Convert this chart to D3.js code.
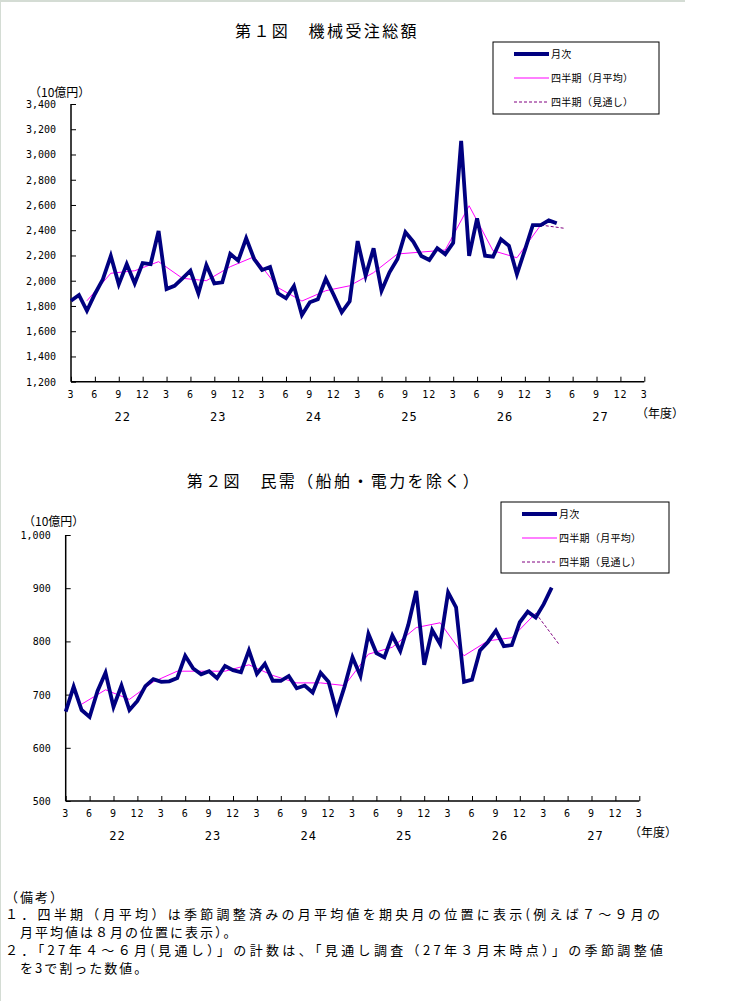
<!DOCTYPE html>
<html><head><meta charset="utf-8">
<script src="https://cdn.jsdelivr.net/npm/d3@7"></script>
<style>
html,body{margin:0;padding:0;background:#fff;}
svg{display:block;}
</style></head>
<body>
<svg id="c" width="753" height="1001"></svg>
<script>
// ---- data ----
const tickLabels = ["3","6","9","12"];
const fiscalYears = ["22","23","24","25","26","27"];

const monthly1 = [1841,1887,1762,1895,2011,2196,1971,2132,1979,2140,2132,2394,1934,1960,2019,2079,1900,2124,1979,1987,2212,2159,2336,2172,2085,2108,1900,1861,1958,1728,1829,1853,2016,1887,1750,1837,2314,2040,2257,1921,2067,2172,2384,2309,2196,2164,2257,2210,2300,3107,2196,2494,2198,2190,2328,2277,2051,2243,2441,2441,2478,2455];
const quarterly1 = [1841,2059,2079,2151,2019,2000,2111,2190,1945,1839,1921,1960,2064,2212,2227,2243,2594,2238,2182,2441];
const forecast1 = 2415;

const monthly2 = [668,715,671,658,707,741,677,717,671,688,716,729,724,725,731,773,749,738,744,731,754,746,742,783,739,758,726,726,735,712,717,704,741,724,668,715,770,735,814,778,770,811,782,831,895,756,821,795,892,864,724,728,783,799,820,791,793,836,856,845,870,901];
const quarterly2 = [682,709,691,724,744,744,744,756,736,722,722,717,776,789,826,835,773,801,807,853];
const forecast2 = 793;

const legendLabels = ["月次","四半期（月平均）","四半期（見通し）"];

const svg = d3.select("#c");
const JP = "'Noto Sans CJK JP', sans-serif";
const MONO = "'DejaVu Sans Mono', monospace";

// frame lines
svg.append("line").attr("x1",0).attr("x2",685).attr("y1",1).attr("y2",1).attr("stroke","#d4dcd4").attr("stroke-width",2);
svg.append("line").attr("x1",0.5).attr("x2",0.5).attr("y1",0).attr("y2",1001).attr("stroke","#d4dcd4").attr("stroke-width",1);

function drawChart(cfg){
  const g = svg.append("g");
  const x = d3.scaleLinear().domain([0,72]).range([cfg.x0,cfg.x1]);
  const y = d3.scaleLinear().domain(cfg.yDomain).range([cfg.yBottom,cfg.yTop]);

  g.append("text").attr("x",cfg.titleX).attr("y",cfg.titleY).attr("text-anchor","middle")
    .attr("font-family",JP).attr("font-size",16).attr("letter-spacing","2.4px").attr("fill","#000").text(cfg.title);

  g.append("text").attr("x",cfg.unitX).attr("y",cfg.unitY).attr("font-family",JP).attr("font-size",12)
    .attr("fill","#000").text("（10億円）");

  const yt = d3.range(cfg.yDomain[0],cfg.yDomain[1]+1,cfg.yStep);
  const yAxis = d3.axisRight(y).tickValues(yt).tickSize(5).tickFormat("");
  const ya = g.append("g").attr("transform",`translate(${cfg.x0},0)`).call(yAxis);
  ya.select(".domain").remove();
  ya.selectAll("line").attr("stroke","#000").attr("stroke-width",1);
  g.selectAll(".ylab").data(yt).enter().append("text")
    .attr("x",cfg.x0-15).attr("y",d=>y(d)+4).attr("text-anchor","end")
    .attr("font-family",MONO).attr("font-size",10).attr("fill","#000").text(d3.format(","));
  g.append("line").attr("x1",cfg.x0).attr("x2",cfg.x0).attr("y1",y(cfg.yDomain[1])).attr("y2",y(cfg.yDomain[0]))
    .attr("stroke","#000").attr("stroke-width",1.5);

  const xt = d3.range(0,73,3);
  const xAxis = d3.axisTop(x).tickValues(xt).tickSize(5).tickFormat("");
  const xa = g.append("g").attr("transform",`translate(0,${cfg.yBottom})`).call(xAxis);
  xa.select(".domain").remove();
  xa.selectAll("line").attr("stroke","#000").attr("stroke-width",1);
  g.append("line").attr("x1",cfg.x0).attr("x2",cfg.x1).attr("y1",cfg.yBottom).attr("y2",cfg.yBottom)
    .attr("stroke","#000").attr("stroke-width",1.5);
  g.selectAll(".xlab").data(xt).enter().append("text")
    .attr("x",d=>x(d)).attr("y",cfg.yBottom+16).attr("text-anchor","middle")
    .attr("font-family",MONO).attr("font-size",10).attr("letter-spacing","1px").attr("fill","#000")
    .text((d,i)=>tickLabels[i%4]);
  g.selectAll(".fy").data(fiscalYears).enter().append("text")
    .attr("x",(d,i)=>x(6.5+12*i)).attr("y",cfg.yBottom+39).attr("text-anchor","middle")
    .attr("font-family",MONO).attr("font-size",12).attr("letter-spacing","1px").attr("fill","#000").text(d=>d);
  g.append("text").attr("x",cfg.nendoX).attr("y",cfg.yBottom+36).attr("font-family",JP).attr("font-size",12)
    .attr("fill","#000").text("（年度）");

  const line = d3.line().x(d=>x(d[0])).y(d=>y(d[1]));
  const mData = cfg.monthly.map((v,i)=>[i,v]);
  const qData = cfg.quarterly.map((v,i)=>[2+3*i,v]);
  const fData = [qData[qData.length-1],[2+3*cfg.quarterly.length,cfg.forecast]];
  g.append("path").attr("d",line(qData)).attr("fill","none").attr("stroke","#ff00ff").attr("stroke-width",1);
  g.append("path").attr("d",line(fData)).attr("fill","none").attr("stroke","#800080").attr("stroke-width",1).attr("stroke-dasharray","3,2");
  g.append("path").attr("d",line(mData)).attr("fill","none").attr("stroke","#000080").attr("stroke-width",3.8).attr("stroke-linejoin","miter");

  const L = cfg.legend;
  g.append("rect").attr("x",L.x).attr("y",L.y).attr("width",L.w).attr("height",L.h)
    .attr("fill","#fff").attr("stroke","#000").attr("stroke-width",1);
  const styles = [{c:"#000080",w:3.8,d:null},{c:"#ff00ff",w:1,d:null},{c:"#800080",w:1,d:"3,2"}];
  legendLabels.forEach((t,i)=>{
    const ly = L.y+12+i*24;
    g.append("line").attr("x1",L.x+21).attr("x2",L.x+56).attr("y1",ly).attr("y2",ly)
      .attr("stroke",styles[i].c).attr("stroke-width",styles[i].w).attr("stroke-dasharray",styles[i].d);
    g.append("text").attr("x",L.x+58).attr("y",ly+4).attr("font-family",JP).attr("font-size",10)
      .attr("letter-spacing","0.3px").attr("fill","#000").text(t);
  });
}

drawChart({
  title:"第１図　機械受注総額", titleX:327, titleY:37,
  unitX:29, unitY:97,
  x0:71, x1:644.3, yTop:104, yBottom:381.7, yDomain:[1200,3400], yStep:200,
  nendoX:636,
  monthly:monthly1, quarterly:quarterly1, forecast:forecast1,
  legend:{x:493,y:42,w:166,h:72}
});
drawChart({
  title:"第２図　民需（船舶・電力を除く）", titleX:334, titleY:487,
  unitX:23, unitY:526,
  x0:65.7, x1:639.3, yTop:535, yBottom:801, yDomain:[500,1000], yStep:100,
  nendoX:629,
  monthly:monthly2, quarterly:quarterly2, forecast:forecast2,
  legend:{x:501,y:502,w:168,h:71}
});

const notes = [
  {t:"（備考）", y:902, len:null},
  {t:"１．四半期（月平均）は季節調整済みの月平均値を期央月の位置に表示(例えば７～９月の", y:919, len:655},
  {t:"　月平均値は８月の位置に表示）。", y:937, len:null},
  {t:"２．「27年４～６月(見通し）」の計数は、「見通し調査（27年３月末時点）」の季節調整値", y:955, len:658},
  {t:"　を3で割った数値。", y:973, len:null}
];
notes.forEach(n=>{
  const tx = svg.append("text").attr("x",5).attr("y",n.y).attr("font-family",JP).attr("font-size",13)
    .attr("letter-spacing","2px").attr("fill","#000").text(n.t);
  if(n.len){ tx.attr("textLength",n.len).attr("lengthAdjust","spacing").attr("letter-spacing",null); }
});
</script>
</body></html>
